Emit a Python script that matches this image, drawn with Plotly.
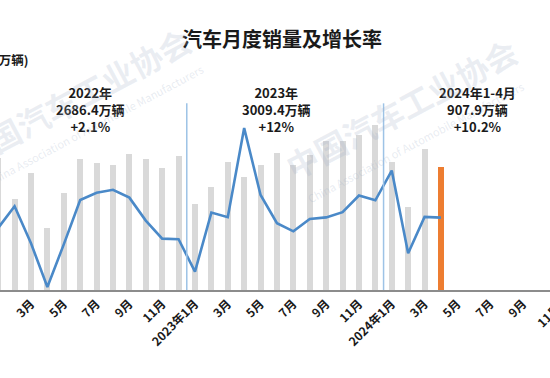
import plotly.graph_objects as go

# ---------------- data ----------------
sales_2022 = [253.1, 173.7, 223.4, 118.1, 186.2, 250.2, 242.0, 238.3, 261.0, 250.5, 232.9, 255.9]
sales_2023 = [164.9, 197.6, 245.1, 215.9, 238.2, 262.2, 238.7, 258.2, 285.8, 285.3, 297.0, 315.6]
sales_2024 = [243.9, 158.4, 269.4, 235.9]

growth_2022 = [0.9, 18.7, -11.7, -47.6, -12.6, 23.8, 29.7, 32.1, 25.7, 6.9, -7.9, -8.4]
growth_2023 = [-35.0, 13.5, 9.7, 82.7, 27.9, 4.8, -1.9, 8.2, 9.5, 13.8, 27.4, 23.5]
growth_2024 = [47.9, -19.9, 9.9, 9.3]

years = [2022, 2023, 2024]
month_names = ["1月", "2月", "3月", "4月", "5月", "6月", "7月", "8月", "9月", "10月", "11月", "12月"]

year_titles = ["2022年", "2023年", "2024年1-4月"]
year_totals = ["2686.4万辆", "3009.4万辆", "907.9万辆"]
year_growth = ["+2.1%", "+12%", "+10.2%"]
year_label_pos = [5.65, 17.0, 29.25]

title_text = "汽车月度销量及增长率"
unit_text = "(万辆)"
wm_cn = "中国汽车工业协会"
wm_en = "China Association of Automobile Manufacturers"

# ---------------- derived ----------------
sales = sales_2022 + sales_2023 + sales_2024
growth = growth_2022 + growth_2023 + growth_2024
n_all = 12 * len(years)
x_all = list(range(n_all))
x_data = x_all[:len(sales)]

tick_vals = x_all[::2]
tick_text = []
for i in tick_vals:
    y, m = years[i // 12], i % 12
    tick_text.append(f"{y}年{month_names[m]}" if m == 0 else month_names[m])

GRAY = "#d9d9d9"
ORANGE = "#ed7d31"
BLUE = "#4a89c8"
FONT = "Noto Sans CJK SC"

bar_colors = [GRAY] * (len(sales) - 1) + [ORANGE]

W, H = 550, 378
ML, MR, MT, MB = 0, 0, 107, 88
x_range = [0.11, 33.65]

fig = go.Figure()
fig.add_trace(go.Bar(x=x_data, y=sales, marker=dict(color=bar_colors, line=dict(width=0)),
                     width=0.37, yaxis="y", showlegend=False))
fig.add_trace(go.Scatter(x=x_data, y=growth, mode="lines", line=dict(color=BLUE, width=2.6),
                         yaxis="y2", showlegend=False))

# year separators
for sep in [11.5, 23.5]:
    fig.add_shape(type="line", xref="x", yref="paper", x0=sep, x1=sep, y0=0, y1=1.02,
                  line=dict(color="#9dc3e6", width=1.5), layer="above")

annotations = []
for xp, t1, t2, t3 in zip(year_label_pos, year_titles, year_totals, year_growth):
    annotations.append(dict(x=xp, xref="x", y=0.985, yref="paper", xanchor="center", yanchor="middle",
                            text=f"{t1}<br>{t2}<br>{t3}", showarrow=False,
                            font=dict(family=FONT, size=13, color="#1a1a1a", weight="bold")))

annotations.append(dict(x=30 / W, xref="paper", y=1.262, yref="paper", xanchor="right", yanchor="middle",
                        text=unit_text, showarrow=False,
                        font=dict(family=FONT, size=12.5, color="#1a1a1a", weight="bold")))

# tick label beyond the visible range (last one, cut at right edge)
last_tick = tick_vals[-1]
px_last = (last_tick - x_range[0]) / (x_range[1] - x_range[0])
annotations.append(dict(x=px_last, xref="paper", y=-0.04, yref="paper", xanchor="right", yanchor="top",
                        xshift=10, text=tick_text[-1], textangle=-45, showarrow=False,
                        font=dict(family=FONT, size=12, color="#1a1a1a", weight="bold")))

# watermarks
for (cx, cy, ex, ey) in [(0.136, 1.055, 0.173, 0.90), (0.729, 0.995, 0.756, 0.81)]:
    annotations.append(dict(x=cx, xref="paper", y=cy, yref="paper", xanchor="center", yanchor="middle",
                            text=wm_cn, textangle=-28, showarrow=False,
                            font=dict(family=FONT, size=32, color="rgba(160,175,200,0.22)", weight="bold")))
    annotations.append(dict(x=ex, xref="paper", y=ey, yref="paper", xanchor="center", yanchor="middle",
                            text=wm_en, textangle=-28, showarrow=False,
                            font=dict(family=FONT, size=11, color="rgba(160,175,200,0.25)")))

fig.update_layout(
    width=W, height=H,
    margin=dict(l=ML, r=MR, t=MT, b=MB, pad=0),
    paper_bgcolor="white", plot_bgcolor="white",
    bargap=0,
    title=dict(text=title_text, x=282 / W, y=1 - 40 / H, xanchor="center", yanchor="middle",
               font=dict(family=FONT, size=20, color="#1a1a1a", weight="bold")),
    xaxis=dict(range=x_range, tickmode="array", tickvals=tick_vals, ticktext=tick_text,
               tickangle=-45, showgrid=False, zeroline=False, showline=True,
               linecolor="#8c8c8c", linewidth=2, ticks="",
               tickfont=dict(family=FONT, size=12, color="#1a1a1a", weight="bold")),
    yaxis=dict(range=[0, 350], visible=False, showgrid=False),
    yaxis2=dict(range=[-50, 100], overlaying="y", visible=False, showgrid=False),
    annotations=annotations,
    font=dict(family=FONT),
)

fig.write_html("out.html", config={"displayModeBar": False},
               post_script="document.body.style.margin='0';document.body.style.overflow='hidden';")
